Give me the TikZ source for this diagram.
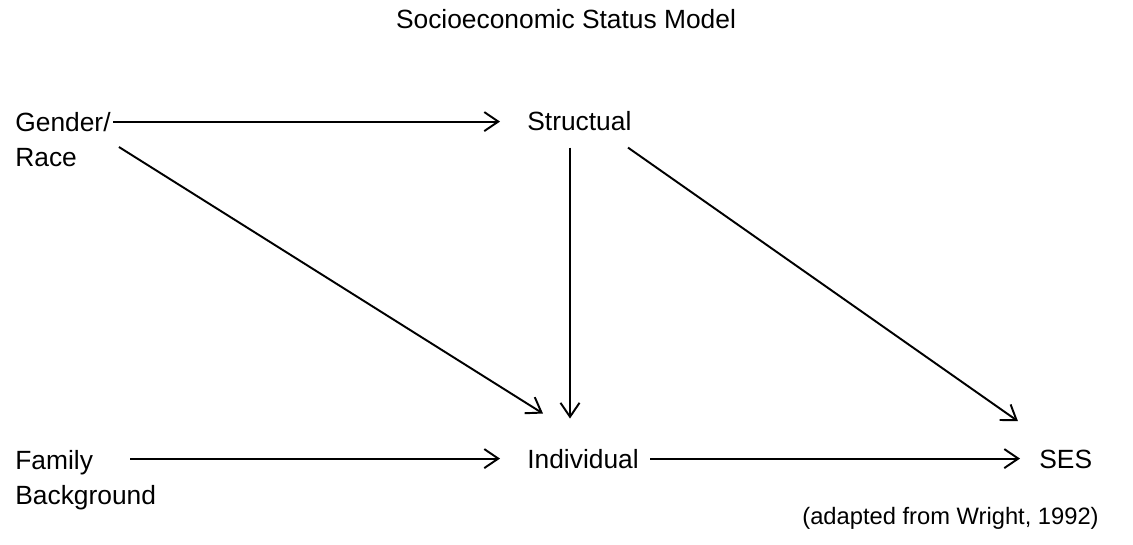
\documentclass[tikz,border=0pt]{standalone}
\usepackage{fontspec}
\setmainfont{Liberation Sans}
\usetikzlibrary{arrows.meta,calc,positioning}

\begin{document}
\begin{tikzpicture}[
      label/.style={inner sep=0pt,font=\fontsize{15}{20}\selectfont,align=left},
      arrow/.style={-{Straight Barb[length=2.8mm,width=3.8mm]},line width=1.1pt,color=black}
    ]
      \useasboundingbox (0,0) rectangle (22.66,10.88);
      \node[label,anchor=base] (title) at (11.32,10.30) {Socioeconomic Status Model};
      \node[label,anchor=north west] (gender) at (0.30,8.64) {Gender/\\Race};
      \node[label,anchor=base west] (struct) at (10.54,8.26) {Structual};
      \node[label,anchor=north west] (family) at (0.30,1.88) {Family\\Background};
      \node[label,anchor=base west] (indiv) at (10.54,1.52) {Individual};
      \node[label,anchor=base west] (ses) at (20.78,1.52) {SES};
      \node[label,anchor=base east,font=\fontsize{13.5}{16}\selectfont] (source) at (21.98,0.40)
        {(adapted from Wright, 1992)};
      \draw[arrow,shorten <=0.05cm,shorten >=0.54cm] (gender.north east |- struct.west) -- (struct.west);
      \draw[arrow] ($(gender.north east)+(0.16,-0.70)$) -- ($(indiv.north west)+(0.32,0.70)$);
      \draw[arrow] ($(struct.south west)+(0.86,-0.32)$) -- ($(indiv.north west)+(0.86,0.60)$);
      \draw[arrow] ($(struct.south west)+(2.02,-0.32)$) -- ($(ses.north west)+(-0.42,0.56)$);
      \draw[arrow,shorten >=0.54cm] ($(family.north west |- indiv.west)+(2.30,0)$) -- (indiv.west);
      \draw[arrow,shorten <=0.22cm,shorten >=0.38cm] (indiv.east) -- (indiv.east -| ses.west);
    \end{tikzpicture}
\end{document}
